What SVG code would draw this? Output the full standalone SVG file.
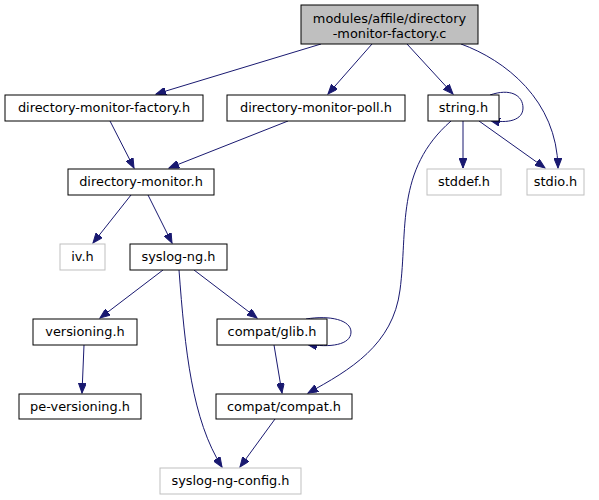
<svg xmlns="http://www.w3.org/2000/svg" width="599" height="500" viewBox="0 0 599 500">
<style>
.n rect{fill:#fff;stroke:#000;stroke-width:1}
.n.g rect{stroke:#bfbfbf}
.n.top rect{fill:#bfbfbf}
text{font-family:"DejaVu Sans","Noto Sans",sans-serif;font-size:12.9px;text-anchor:middle;fill:#000}
.e path{fill:none;stroke:#191970;stroke-width:1;marker-end:url(#a)}
</style>
<defs>
<marker id="a" markerUnits="userSpaceOnUse" markerWidth="11" markerHeight="8" refX="10" refY="4" orient="auto"><path d="M0,0 L10,4 L0,8 z" fill="#191970" stroke="#191970"/></marker>
</defs>
<rect width="599" height="500" fill="#fff"/>
<g class="e">
<path d="M321 44 L156 94"/>
<path d="M372 44 L328 94"/>
<path d="M407 44 L453 94"/>
<path d="M461 44 C505 60, 557 100, 558 168"/>
<path d="M490 95 C510 88, 523 95, 523 108 C523 120, 508 124, 490 120"/>
<path d="M463 121 L463 168"/>
<path d="M479 121 L545 168"/>
<path d="M451 121 C395 170, 408 230, 400 290 C393 345, 350 370, 308 393"/>
<path d="M110 121 L134 168"/>
<path d="M288 121 L169 168"/>
<path d="M131 195 L93 243"/>
<path d="M148 195 L172 243"/>
<path d="M163 270 L100 318"/>
<path d="M194 270 L257 318"/>
<path d="M179 270 C185 350, 192 420, 222 467"/>
<path d="M306 319 C330 315, 351 320, 351 332 C351 345, 330 348, 307 344"/>
<path d="M274 345 L282 393"/>
<path d="M84 345 L82 393"/>
<path d="M275 419 L240 467"/>
</g>
<g id="node1" class="n top"><rect x="301" y="5" width="177" height="39"/><text x="389.5" y="23">modules/affile/directory</text><text x="389.5" y="38">-monitor-factory.c</text></g>
<g id="node2" class="n"><rect x="5" y="95" width="198" height="26"/><text x="104" y="112">directory-monitor-factory.h</text></g>
<g id="node3" class="n"><rect x="227" y="95" width="178" height="26"/><text x="316" y="112">directory-monitor-poll.h</text></g>
<g id="node4" class="n"><rect x="428" y="95" width="71" height="26"/><text x="463.5" y="112">string.h</text></g>
<g id="node5" class="n g"><rect x="427" y="169" width="74" height="26"/><text x="464" y="186">stddef.h</text></g>
<g id="node6" class="n g"><rect x="527" y="169" width="57" height="26"/><text x="555.5" y="186">stdio.h</text></g>
<g id="node7" class="n"><rect x="68" y="169" width="146" height="26"/><text x="141" y="186">directory-monitor.h</text></g>
<g id="node8" class="n g"><rect x="60" y="244" width="45" height="26"/><text x="82.5" y="261">iv.h</text></g>
<g id="node9" class="n"><rect x="130" y="244" width="97" height="26"/><text x="178.5" y="261">syslog-ng.h</text></g>
<g id="node10" class="n"><rect x="33" y="319" width="104" height="26"/><text x="85" y="336">versioning.h</text></g>
<g id="node11" class="n"><rect x="217" y="319" width="110" height="26"/><text x="272" y="336">compat/glib.h</text></g>
<g id="node12" class="n"><rect x="19" y="394" width="122" height="25"/><text x="80" y="411">pe-versioning.h</text></g>
<g id="node13" class="n"><rect x="216" y="394" width="136" height="25"/><text x="284" y="411">compat/compat.h</text></g>
<g id="node14" class="n g"><rect x="160" y="468" width="141" height="26"/><text x="230.5" y="485">syslog-ng-config.h</text></g>
</svg>
